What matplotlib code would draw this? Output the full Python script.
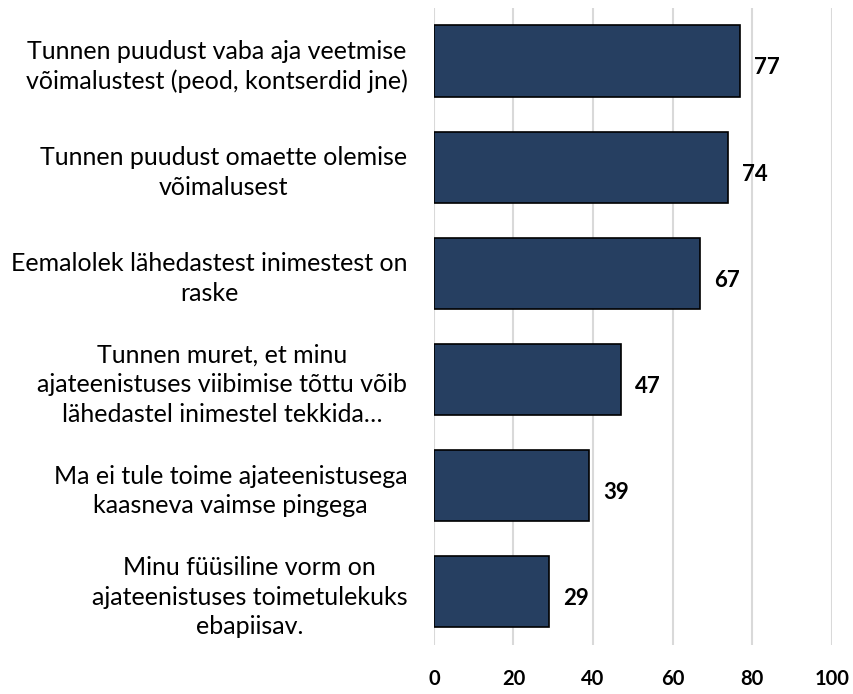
import numpy as np
import matplotlib.pyplot as plt

# vastuste osakaal (%)
labels = [
    "Tunnen puudust vaba aja veetmise\nvõimalustest (peod, kontserdid jne)",
    "Tunnen puudust omaette olemise\nvõimalusest",
    "Eemalolek lähedastest inimestest on\nraske",
    "Tunnen muret, et minu\najateenistuses viibimise tõttu võib\nlähedastel inimestel tekkida…",
    "Ma ei tule toime ajateenistusega\nkaasneva vaimse pingega",
    "Minu füüsiline vorm on\najateenistuses toimetulekuks\nebapiisav.",
]
values = [77, 74, 67, 47, 39, 29]
xticks = [0, 20, 40, 60, 80, 100]

plt.rcParams['font.family'] = ['Lato', 'DejaVu Sans']


def main():
    fig = plt.figure(figsize=(8.54, 6.94), dpi=100)
    ax = fig.add_axes([0.508, 0.0706, 0.466, 0.918])

    y = np.arange(len(values))
    bars = ax.barh(y, values, height=0.67, color='#263F61',
                   edgecolor='black', linewidth=1.2, zorder=3)

    for b, v in zip(bars, values):
        ax.annotate(str(v), (b.get_width(), b.get_y() + b.get_height() / 2),
                    xytext=(10, -5), textcoords='offset points',
                    ha='left', va='center', fontsize=16, fontweight='bold')

    ax.set_xlim(0, 100)
    ax.set_ylim(len(values) - 0.5, -0.5)
    ax.set_xticks(xticks)
    ax.set_xticklabels([str(t) for t in xticks], fontsize=14.5, fontweight='bold')
    ax.set_yticks(y)
    ax.set_yticklabels(labels, fontsize=18, multialignment='center',
                       linespacing=1.35)
    ax.tick_params(axis='both', length=0)
    ax.tick_params(axis='x', pad=17)
    ax.tick_params(axis='y', pad=19)

    ax.grid(axis='x', color='#D9D9D9', linewidth=1.5, zorder=0)
    for s in ax.spines.values():
        s.set_visible(False)

    fig.savefig('out.png', dpi=100)


if __name__ == "__main__":
    main()
